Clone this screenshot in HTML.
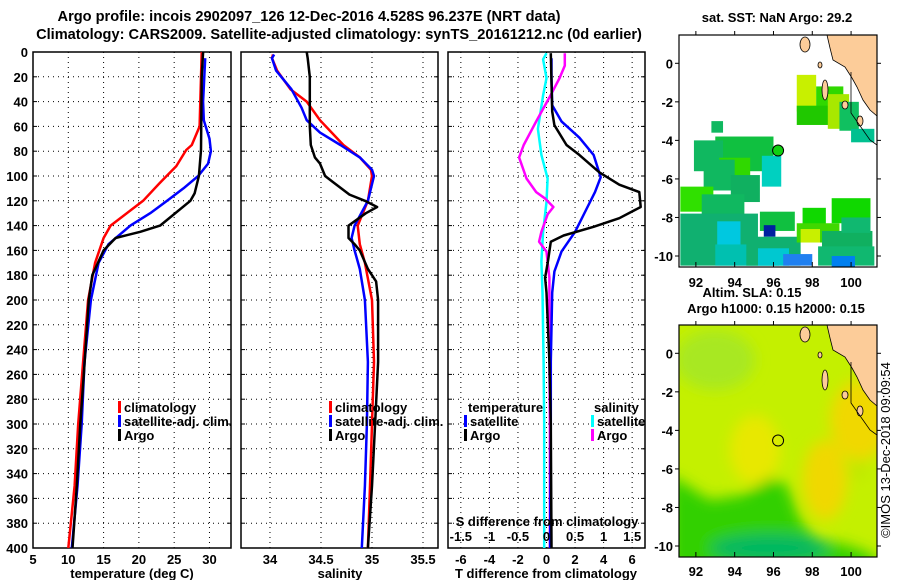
<!DOCTYPE html>
<html><head><meta charset="utf-8"><style>
body{margin:0;background:#fff;}
svg{display:block;font-family:"Liberation Sans",sans-serif;font-weight:bold;}
</style></head><body>
<svg id="fig" width="900" height="580" viewBox="0 0 900 580">
<g id="titles" font-size="14.6" text-anchor="middle" fill="#000">
<text x="309" y="21">Argo profile: incois 2902097_126 12-Dec-2016 4.528S 96.237E (NRT data)</text>
<text x="339" y="39">Climatology: CARS2009. Satellite-adjusted climatology: synTS_20161212.nc (0d earlier)</text>
</g>
<g id="p1"></g>
<g id="p2"></g>
<g id="p3"></g>
<defs>
<clipPath id="cm1"><rect x="679" y="35" width="198" height="232"/></clipPath>
<clipPath id="cm2"><rect x="679" y="325" width="198" height="232"/></clipPath>
<filter id="bl" x="-20%" y="-20%" width="140%" height="140%"><feGaussianBlur stdDeviation="7"/></filter>
</defs>
<g id="map1"></g>
<g id="map2"></g>
<text x="890" y="450" font-size="13" font-weight="normal" text-anchor="middle" transform="rotate(-90 890 450)">©IMOS 13-Dec-2018 09:09:54</text>
</svg>
<script>
// ---- data ----
const depthTicks=[0,20,40,60,80,100,120,140,160,180,200,220,240,260,280,300,320,340,360,380,400];
const tempTicks=[5,10,15,20,25,30];
const salTicks=[34,34.5,35,35.5];
const tdiffTicks=[-6,-4,-2,0,2,4,6];
const sdiffTicks=[-1.5,-1,-0.5,0,0.5,1,1.5];
// temperature profiles [depth, value]
const tempClimDepth=[0,40,60,75,79,92,106,120,140,150,170,200,250,300,350,400];
const tempClim=[28.9,28.7,28.6,27.5,26.7,25.3,22.9,20.6,16,15,13.8,12.8,12.1,11.4,10.9,10.0];
const tempSatDepth=[5,40,55,70,80,90,100,110,120,130,140,155,170,200,250,300,350,400];
const tempSat=[29.4,29.1,29.2,30,30.2,29.8,28.4,26.3,24,21.6,18.8,15.7,14.3,13.2,12.3,11.9,11.3,10.5];
const tempArgoDepth=[0,20,79,100,114,120,140,145,150,160,180,200,260,300,350,400];
const tempArgo=[29.1,28.9,28.8,28.5,27.9,27.3,23,20.2,16.7,15,13.4,12.9,12.2,11.7,11.2,10.6];
// salinity profiles
const salClimDepth=[2,5,15,30,40,55,75,85,95,100,120,140,155,170,200,250,300,350,400];
const salClim=[34.03,34.02,34.07,34.20,34.36,34.49,34.72,34.88,34.99,35.0,34.96,34.86,34.88,34.93,35.0,35.02,35.0,34.98,34.96];
const salSatDepth=[2,5,15,30,45,55,65,75,85,95,100,120,140,150,160,175,200,250,300,350,400];
const salSat=[34.04,34.02,34.06,34.21,34.31,34.36,34.49,34.69,34.88,35.0,35.02,34.96,34.83,34.80,34.83,34.88,34.93,34.96,34.95,34.93,34.9];
const salArgoDepth=[0,5,20,60,75,85,90,100,105,115,120,125,130,140,150,155,160,175,185,200,250,300,350,400];
const salArgo=[34.36,34.37,34.39,34.39,34.40,34.44,34.49,34.54,34.62,34.78,34.93,35.05,34.94,34.77,34.77,34.83,34.88,34.96,35.04,35.06,35.06,35.03,35.0,34.96];
// difference profiles
const tdSatDepth=[5,21,43,56,69,83,101,113,129,145,161,177,194,250,300,400];
const tdSat=[0.35,0.35,0.4,1.05,2.3,3.3,3.8,3.4,2.7,2.0,1.05,0.55,0.4,0.3,0.3,0.25];
const tdArgoDepth=[1,48,59,75,83,97,107,113,125,134,141,148,153,169,182,194,250,300,400];
const tdArgo=[0.3,0.4,0.55,1.4,2.3,3.7,5.1,6.5,6.6,5.1,3.3,1.2,0.3,0.1,-0.1,0,0.2,0.3,0.35];
const sdSatDepth=[1,6,21,35,62,83,102,121,145,169,194,250,300,400];
const sdSat=[0,-0.06,0,-0.06,-0.15,-0.09,0.02,0,-0.06,-0.09,-0.07,-0.05,-0.04,-0.04];
const sdArgoDepth=[1,11,21,35,56,75,85,102,113,118,125,131,145,153,161,182,250,300,400];
const sdArgo=[0.32,0.32,0.23,0.07,-0.18,-0.4,-0.48,-0.35,-0.18,-0.03,0.12,0.02,-0.09,-0.13,0,0.05,0.05,0.06,0.06];
// maps
const lonTicks=[92,94,96,98,100];
const latTicks=[0,-2,-4,-6,-8,-10];
const argoLon=96.237, argoLat=-4.528;

const NS='http://www.w3.org/2000/svg';
function mk(tag,attrs,parent){const e=document.createElementNS(NS,tag);for(const k in attrs)e.setAttribute(k,attrs[k]);if(parent)parent.appendChild(e);return e;}
const Y0=52,Y1=548;
const yD=d=>Y0+(Y1-Y0)*d/400;

function panel(g,x0,x1,xmin,xmax,opts){
  const sx=v=>x0+(x1-x0)*(v-xmin)/(xmax-xmin);
  const gridTicks=opts.grid;
  gridTicks.forEach(v=>{const x=sx(v);if(x>x0+1&&x<x1-1){const l=mk('line',{x1:x,x2:x,y1:Y0,y2:Y1,stroke:'#000','stroke-dasharray':'1,4','stroke-width':1},g);
    
    }});
  depthTicks.forEach(d=>{const y=yD(d);if(d>0&&d<400){const l=mk('line',{x1:x0,x2:x1,y1:y,y2:y,stroke:'#000','stroke-dasharray':'1,4','stroke-width':1},g);
    
    }
    mk('line',{x1:x0,x2:x0+4,y1:y,y2:y,stroke:'#000'},g);mk('line',{x1:x1,x2:x1-4,y1:y,y2:y,stroke:'#000'},g);
    if(opts.ylabels){const t=mk('text',{x:28,y:y+5,'font-size':13,'text-anchor':'end'},g);t.textContent=d;
      
      }
  });
  const fr=mk('rect',{x:x0,y:Y0,width:x1-x0,height:Y1-Y0,fill:'none',stroke:'#000','stroke-width':1.5},g);
  
  
  return sx;
}
function line(g,sx,depths,vals,color,w,name){
  const pts=depths.map((d,i)=>sx(vals[i]).toFixed(1)+','+yD(d).toFixed(1)).join(' ');
  const p=mk('polyline',{points:pts,fill:'none',stroke:color,'stroke-width':w,'stroke-linejoin':'round'},g);
  
  
}
function txt(g,x,y,s,size,anchor,name){const t=mk('text',{x:x,y:y,'font-size':size,'text-anchor':anchor||'start'},g);t.textContent=s;
  
  return t;}
function legend(g,x,y,color,label,name){
  const r=mk('rect',{x:x,y:y-11,width:3,height:12,fill:color},g);
  
  
  txt(g,x+6,y,label,13,'start',name+'-label');
}

// Panel 1
const g1=document.getElementById('p1');
const sx1=panel(g1,33,231,5,33.05,{grid:tempTicks,ylabels:true});
line(g1,sx1,tempClimDepth,tempClim,'#f00',2.5,'temp-climatology-line');
line(g1,sx1,tempSatDepth,tempSat,'#00f',2.5,'temp-satellite-line');
line(g1,sx1,tempArgoDepth,tempArgo,'#000',2.5,'temp-argo-line');
tempTicks.forEach(v=>txt(g1,sx1(v),564,v,13,'middle','temp-tick-label'));
txt(g1,132,578,'temperature (deg C)',13,'middle','temp-axis-title');
legend(g1,118,412,'#f00','climatology','legend-climatology');
legend(g1,118,426,'#00f','satellite-adj. clim.','legend-satellite');
legend(g1,118,440,'#000','Argo','legend-argo');

// Panel 2
const g2=document.getElementById('p2');
const sx2=panel(g2,241,438,33.716,35.647,{grid:salTicks,ylabels:false});
line(g2,sx2,salClimDepth,salClim,'#f00',2.5,'sal-climatology-line');
line(g2,sx2,salSatDepth,salSat,'#00f',2.5,'sal-satellite-line');
line(g2,sx2,salArgoDepth,salArgo,'#000',2.5,'sal-argo-line');
salTicks.forEach(v=>txt(g2,sx2(v),564,v,13,'middle','sal-tick-label'));
txt(g2,340,578,'salinity',13,'middle','sal-axis-title');
legend(g2,329,412,'#f00','climatology','legend-climatology');
legend(g2,329,426,'#00f','satellite-adj. clim.','legend-satellite');
legend(g2,329,440,'#000','Argo','legend-argo');

// Panel 3
const g3=document.getElementById('p3');
const sxT=panel(g3,448,645,-6.9,6.9,{grid:sdiffTicks.map(v=>v*4),ylabels:false});
const sxS=v=>sxT(v*4);
line(g3,sxS,sdSatDepth,sdSat,'#0ff',2.5,'sdiff-satellite-line');
line(g3,sxS,sdArgoDepth,sdArgo,'#f0f',2.5,'sdiff-argo-line');
line(g3,sxT,tdSatDepth,tdSat,'#00f',2.5,'tdiff-satellite-line');
line(g3,sxT,tdArgoDepth,tdArgo,'#000',2.5,'tdiff-argo-line');
tdiffTicks.forEach(v=>txt(g3,sxT(v),564,v,13,'middle','tdiff-tick-label'));
sdiffTicks.forEach(v=>txt(g3,sxS(v),541,v,13,'middle','sdiff-tick-label'));
txt(g3,547,526,'S difference from climatology',13,'middle','sdiff-axis-title');
txt(g3,546,578,'T difference from climatology',13,'middle','tdiff-axis-title');
txt(g3,468,412,'temperature',13,'start','legend-temperature-heading');
legend(g3,464,426,'#00f','satellite','legend-tdiff-satellite');
legend(g3,464,440,'#000','Argo','legend-tdiff-argo');
txt(g3,594,412,'salinity',13,'start','legend-salinity-heading');
legend(g3,591,426,'#0ff','satellite','legend-sdiff-satellite');
legend(g3,591,440,'#f0f','Argo','legend-sdiff-argo');

// Maps
const MX0=679,MX1=877;
const mlon=l=>MX0+(l-91.13)*19.4;
function mapFrame(g,top){
  const mlat=l=>top+28.3-l*19.27;
  return mlat;
}
function coast(g,off){
  const land=mk('polygon',{points:`827,${35+off} 830,${48+off} 833,${60+off} 845,${67+off} 852,${78+off} 857,${87+off} 863,${100+off} 870,${110+off} 877,${116+off} 877,${35+off}`,fill:'#fccc99',stroke:'#000','stroke-width':0.8},g);
  
  
  [[800,37,10,15],[822,80,6,20],[842,101,6,8],[857,116,6,10],[818,62,4,6]].forEach(r=>{
    const e=mk('ellipse',{cx:r[0]+r[2]/2,cy:r[1]+off+r[3]/2,rx:r[2]/2,ry:r[3]/2,fill:'#fccc99',stroke:'#000','stroke-width':0.8},g);
    
    
  });
  mk('polyline',{points:`851,${72+off} 851,${113+off} 870,${140+off} 877,${145+off}`,fill:'none',stroke:'#000','stroke-width':0.8},g);
}
function axes(g,top,mlat,labelY){
  const fr=mk('rect',{x:MX0,y:top,width:MX1-MX0,height:232,fill:'none',stroke:'#000','stroke-width':1.2},g);
  
  
  lonTicks.forEach(l=>{const x=mlon(l);mk('line',{x1:x,x2:x,y1:top+232,y2:top+227,stroke:'#000'},g);mk('line',{x1:x,x2:x,y1:top,y2:top-4,stroke:'#000'},g);
    txt(g,x,labelY,l,13,'middle','lon-tick-label');});
  latTicks.forEach(l=>{const y=mlat(l);mk('line',{x1:MX0,x2:MX0-4,y1:y,y2:y,stroke:'#000'},g);mk('line',{x1:MX1,x2:MX1+4,y1:y,y2:y,stroke:'#000'},g);
    txt(g,673,y+5,l,13,'end','lat-tick-label');});
}
// map1
const gm1=document.getElementById('map1');
const mlat1=mapFrame(gm1,35);
txt(gm1,777,22,'sat. SST: NaN Argo: 29.2',13,'middle','sst-map-title');
const c1=mk('g',{'clip-path':'url(#cm1)'},gm1);
const sstCells=[
 [97.2,-0.6,1.0,1.9,'#c8f000'],[98.2,-1.2,1.4,1.6,'#30d800'],[97.2,-2.2,2.2,1.0,'#20c800'],[98.8,-1.6,1.1,1.8,'#a8e800'],[99.4,-2.0,1.0,1.5,'#10c060'],
 [100.0,-3.4,1.2,0.7,'#00c090'],[92.8,-3.0,0.6,0.6,'#10b860'],[93.0,-3.8,3.0,1.8,'#10c040'],[91.9,-4.0,1.5,1.6,'#10b860'],[93.2,-4.9,1.6,1.0,'#30d800'],
 [92.4,-5.0,1.6,1.6,'#10b860'],[95.4,-4.8,1.0,1.6,'#00d0c0'],[93.8,-5.8,1.5,1.4,'#10b060'],[91.2,-6.4,1.7,1.3,'#30e000'],[92.3,-6.8,2.2,1.3,'#10b860'],
 [91.2,-7.8,4.0,2.7,'#10b070'],[93.1,-8.2,1.2,1.4,'#00c8e0'],[93.0,-9.4,3.3,1.1,'#00c0b0'],[95.3,-7.7,1.8,1.0,'#10c040'],[95.5,-8.4,0.6,0.6,'#0020a0'],
 [94.6,-9.0,2.8,1.5,'#10b070'],[95.2,-9.6,1.6,0.9,'#00c8d0'],[96.5,-9.9,1.5,0.6,'#2080f0'],[97.5,-7.5,1.2,1.0,'#10d800'],[97.2,-8.3,2.2,1.0,'#40d800'],
 [97.4,-8.6,1.0,0.7,'#c8f000'],[98.5,-8.7,2.6,1.2,'#10b060'],[98.3,-9.5,2.9,1.0,'#10b870'],[99.0,-7.0,2.0,1.3,'#10d800'],[99.5,-8.0,1.5,0.8,'#10b870'],[99.0,-10.0,1.2,0.6,'#0080f0']
];
sstCells.forEach(c=>{const r=mk('rect',{x:mlon(c[0]),y:mlat1(c[1]),width:c[2]*19.4,height:c[3]*19.27,fill:c[4]},c1);
  
  });
coast(c1,0);
const m1=mk('circle',{cx:mlon(argoLon),cy:mlat1(argoLat),r:5.5,fill:'#10d010',stroke:'#000','stroke-width':1},gm1);


axes(gm1,35,mlat1,287);
// map2
const gm2=document.getElementById('map2');
const mlat2=mapFrame(gm2,325);
txt(gm2,752,297,'Altim. SLA: 0.15',13,'middle','sla-map-title');
txt(gm2,776,313,'Argo h1000: 0.15 h2000: 0.15',13,'middle','sla-map-subtitle');
const c2=mk('g',{'clip-path':'url(#cm2)'},gm2);
mk('rect',{x:MX0,y:325,width:198,height:232,fill:'#c4f000'},c2);
const bg=mk('g',{filter:'url(#bl)'},c2);
mk('ellipse',{cx:715,cy:360,rx:40,ry:30,fill:'#a8e820'},bg);
mk('ellipse',{cx:755,cy:450,rx:25,ry:35,fill:'#e8e800'},bg);
mk('ellipse',{cx:825,cy:480,rx:22,ry:40,fill:'#f0d800'},bg);
mk('ellipse',{cx:860,cy:420,rx:30,ry:40,fill:'#f0d800'},bg);
mk('ellipse',{cx:858,cy:470,rx:10,ry:10,fill:'#c0e800'},bg);
const green=mk('polygon',{points:'670,475 710,500 743,495 770,478 787,485 800,520 817,540 847,545 873,555 880,570 670,570',fill:'#30d000'},bg);


mk('ellipse',{cx:770,cy:548,rx:60,ry:14,fill:'#00b860'},bg);
coast(c2,290);
const m2=mk('circle',{cx:mlon(argoLon),cy:mlat2(argoLat),r:5.5,fill:'none',stroke:'#000','stroke-width':1},gm2);


axes(gm2,325,mlat2,576);
</script>
</body></html>
